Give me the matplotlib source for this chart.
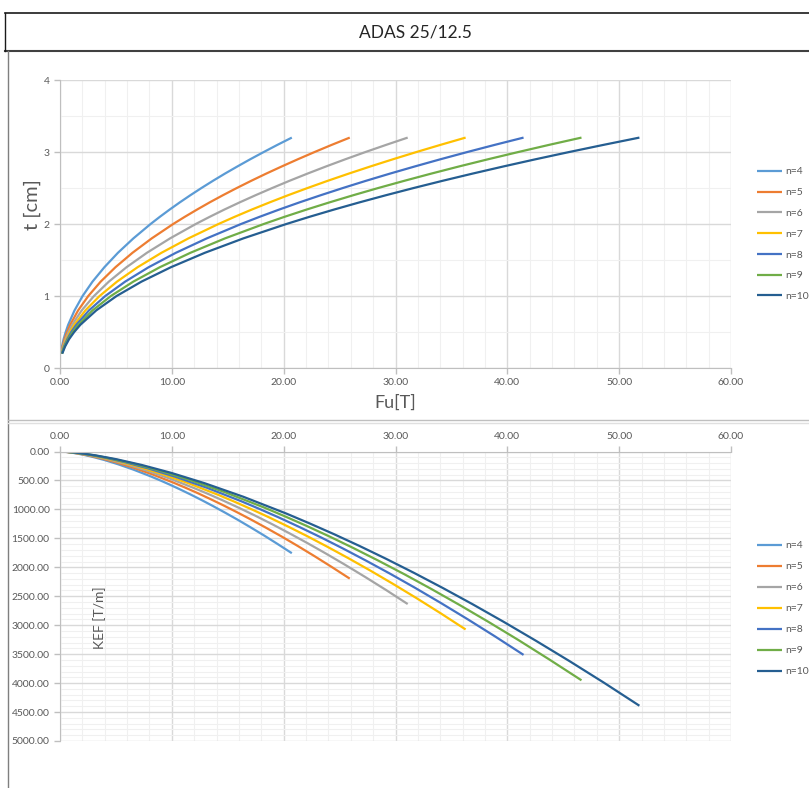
import matplotlib
matplotlib.use("Agg")
import matplotlib.pyplot as plt
from matplotlib.lines import Line2D
from matplotlib.ticker import MultipleLocator, FormatStrFormatter

plt.rcParams['font.family'] = ['Lato', 'DejaVu Sans']

# ---------------- data ----------------
SERIES = ["n=4", "n=5", "n=6", "n=7", "n=8", "n=9", "n=10"]
COLORS = ["#5B9BD5", "#ED7D31", "#A5A5A5", "#FFC000", "#4472C4", "#70AD47", "#255E91"]

T_CM = [0.2, 0.3, 0.4, 0.5, 0.6, 0.8, 1.0, 1.2, 1.4, 1.6, 1.8, 2.0,
        2.1, 2.2, 2.3, 2.4, 2.5, 2.6, 2.7, 2.8, 2.9, 3.0, 3.1, 3.2]

FU_N4 = [0.08, 0.18, 0.32, 0.51, 0.73, 1.30, 2.02, 2.91, 3.97, 5.18, 6.56, 8.10,
         8.93, 9.80, 10.71, 11.66, 12.65, 13.68, 14.75, 15.87, 17.02, 18.22, 19.45, 20.73]
FU_N5 = [0.10, 0.23, 0.40, 0.63, 0.91, 1.62, 2.53, 3.64, 4.96, 6.48, 8.20, 10.12,
         11.16, 12.25, 13.38, 14.57, 15.81, 17.10, 18.44, 19.84, 21.28, 22.77, 24.31, 25.91]
FU_N6 = [0.12, 0.27, 0.49, 0.76, 1.09, 1.94, 3.04, 4.37, 5.95, 7.77, 9.84, 12.14,
         13.39, 14.69, 16.06, 17.49, 18.98, 20.52, 22.13, 23.80, 25.53, 27.32, 29.18, 31.09]
FU_N7 = [0.14, 0.32, 0.57, 0.89, 1.28, 2.27, 3.54, 5.10, 6.94, 9.07, 11.48, 14.17,
         15.62, 17.14, 18.74, 20.40, 22.14, 23.94, 25.82, 27.77, 29.79, 31.88, 34.04, 36.27]
FU_N8 = [0.16, 0.36, 0.65, 1.01, 1.46, 2.59, 4.05, 5.83, 7.93, 10.36, 13.12, 16.19,
         17.85, 19.59, 21.41, 23.32, 25.30, 27.36, 29.51, 31.74, 34.04, 36.43, 38.90, 41.45]
FU_N9 = [0.18, 0.41, 0.73, 1.14, 1.64, 2.91, 4.55, 6.56, 8.93, 11.66, 14.75, 18.22,
         20.08, 22.04, 24.09, 26.23, 28.46, 30.79, 33.20, 35.70, 38.30, 40.99, 43.76, 46.63]
FU_N10 = [0.20, 0.46, 0.81, 1.27, 1.82, 3.24, 5.06, 7.29, 9.92, 12.95, 16.39, 20.24,
          22.31, 24.49, 26.77, 29.15, 31.63, 34.21, 36.89, 39.67, 42.55, 45.54, 48.63, 51.81]

KEF_N4 = [0.4, 1.4, 3.4, 6.7, 11.6, 27.4, 53.6, 92.6, 147.1, 219.5, 312.6, 428.8,
          496.4, 570.7, 652.2, 741.0, 837.5, 942.1, 1055.0, 1176.6, 1307.3, 1447.2, 1596.8, 1756.4]
KEF_N5 = [0.5, 1.8, 4.3, 8.4, 14.5, 34.3, 67.0, 115.8, 183.9, 274.4, 390.7, 536.0,
          620.5, 713.4, 815.2, 926.2, 1046.9, 1177.6, 1318.8, 1470.8, 1634.1, 1809.0, 1996.0, 2195.5]
KEF_N6 = [0.6, 2.2, 5.1, 10.1, 17.4, 41.2, 80.4, 138.9, 220.6, 329.3, 468.9, 643.2,
          744.6, 856.1, 978.2, 1111.4, 1256.3, 1413.1, 1582.5, 1765.0, 1960.9, 2170.8, 2395.2, 2634.5]
KEF_N7 = [0.8, 2.5, 6.0, 11.7, 20.3, 48.0, 93.8, 162.1, 257.4, 384.2, 547.0, 750.4,
          868.7, 998.8, 1141.3, 1296.7, 1465.6, 1648.6, 1846.3, 2059.1, 2287.7, 2532.6, 2794.4, 3073.6]
KEF_N8 = [0.9, 2.9, 6.9, 13.4, 23.2, 54.9, 107.2, 185.2, 294.2, 439.1, 625.2, 857.6,
          992.8, 1141.4, 1304.3, 1481.9, 1675.0, 1884.2, 2110.0, 2353.3, 2614.5, 2894.4, 3193.6, 3512.7]
KEF_N9 = [1.0, 3.3, 7.7, 15.1, 26.0, 61.7, 120.6, 208.4, 330.9, 494.0, 703.3, 964.8,
          1116.9, 1284.1, 1467.3, 1667.2, 1884.4, 2119.7, 2373.8, 2647.4, 2941.3, 3256.2, 3592.8, 3951.8]
KEF_N10 = [1.1, 3.6, 8.6, 16.8, 28.9, 68.6, 134.0, 231.6, 367.7, 548.9, 781.5, 1072.0,
           1241.0, 1426.8, 1630.4, 1852.4, 2093.8, 2355.2, 2637.5, 2941.6, 3268.1, 3618.0, 3992.0, 4390.9]

FU_ALL = [FU_N4, FU_N5, FU_N6, FU_N7, FU_N8, FU_N9, FU_N10]
KEF_ALL = [KEF_N4, KEF_N5, KEF_N6, KEF_N7, KEF_N8, KEF_N9, KEF_N10]

TXT = "#595959"
MAJ = "#d9d9d9"
MIN = "#f0f0f0"
W, H = 809, 788


def fx(px):
    return px / W


def fy(py):
    return 1 - py / H


def style_axes(ax):
    for s in ax.spines.values():
        s.set_visible(False)
    ax.grid(which="major", color=MAJ, linewidth=1.0)
    ax.grid(which="minor", color=MIN, linewidth=0.8)
    ax.set_axisbelow(True)
    ax.tick_params(which="major", colors="#bfbfbf", labelcolor=TXT, labelsize=7.5,
                   length=4, width=1.0, direction="out")
    ax.tick_params(which="minor", length=0)
    ax.xaxis.set_major_locator(MultipleLocator(10))
    ax.xaxis.set_minor_locator(MultipleLocator(2))
    ax.xaxis.set_major_formatter(FormatStrFormatter("%.2f"))
    ax.set_xlim(0, 60)


fig = plt.figure(figsize=(W / 100, H / 100), dpi=100)

# ---------------- frames / title box ----------------
fig.add_artist(Line2D([fx(5), 1], [fy(13), fy(13)], color="#1a1a1a", lw=1.2))
fig.add_artist(Line2D([fx(5), 1], [fy(51), fy(51)], color="#404040", lw=1.5))
fig.add_artist(Line2D([fx(5), fx(5)], [fy(13), fy(51)], color="#1a1a1a", lw=1.0))
fig.add_artist(Line2D([fx(8), fx(8)], [fy(51), 0], color="#7f7f7f", lw=1.0))
fig.add_artist(Line2D([fx(8), 1], [fy(420), fy(420)], color="#bfbfbf", lw=1.0))
fig.add_artist(Line2D([fx(8), 1], [fy(423), fy(423)], color="#e0e0e0", lw=1.0))
fig.text(fx(415), fy(33), "ADAS 25/12.5", ha="center", va="center",
         fontsize=12.5, color="#262626")

# ---------------- top chart: t vs Fu ----------------
ax1 = fig.add_axes([fx(60), fy(368), fx(731) - fx(60), fy(80) - fy(368)])
style_axes(ax1)
ax1.set_ylim(0, 4)
ax1.yaxis.set_major_locator(MultipleLocator(1))
ax1.yaxis.set_minor_locator(MultipleLocator(0.5))
ax1.spines["left"].set_visible(True)
ax1.spines["bottom"].set_visible(True)
ax1.spines["left"].set_color("#bfbfbf")
ax1.spines["bottom"].set_color("#bfbfbf")
for fu, lab, col in zip(FU_ALL, SERIES, COLORS):
    ax1.plot(fu, T_CM, color=col, lw=1.6, label=lab, solid_capstyle="butt")
ax1.set_ylabel("t [cm]", fontsize=14.5, color=TXT)
ax1.yaxis.label.set_va("center")
ax1.yaxis.set_label_coords(-(60 - 32) / (731 - 60), 1 - (205 - 80) / (368 - 80))
ax1.set_xlabel("Fu[T]", fontsize=13, color=TXT)
ax1.xaxis.label.set_va("center")
ax1.xaxis.set_label_coords((395 - 60) / (731 - 60), -(403 - 368) / (368 - 80))
ax1.legend(loc="upper left", bbox_to_anchor=(fx(752), fy(162)),
           bbox_transform=fig.transFigure, frameon=False, fontsize=7.5,
           labelcolor=TXT, handlelength=2.4, handletextpad=0.3,
           labelspacing=1.1, borderpad=0)

# ---------------- bottom chart: KEF vs Fu ----------------
ax2 = fig.add_axes([fx(60), fy(741), fx(731) - fx(60), fy(451.5) - fy(741)])
style_axes(ax2)
ax2.set_ylim(5000, 0)
ax2.yaxis.set_major_locator(MultipleLocator(500))
ax2.yaxis.set_minor_locator(MultipleLocator(100))
ax2.yaxis.set_major_formatter(FormatStrFormatter("%.2f"))
ax2.xaxis.tick_top()
ax2.spines["left"].set_visible(True)
ax2.spines["top"].set_visible(True)
ax2.spines["left"].set_color("#bfbfbf")
ax2.spines["top"].set_color("#bfbfbf")
for fu, kef, lab, col in zip(FU_ALL, KEF_ALL, SERIES, COLORS):
    ax2.plot(fu, kef, color=col, lw=1.6, label=lab, solid_capstyle="butt")
ax2.text((100 - 60) / (731 - 60), 1 - (618 - 451.5) / (741 - 451.5), "KEF [T/m]",
         transform=ax2.transAxes, rotation=90, ha="center", va="center",
         fontsize=10, color=TXT)
ax2.legend(loc="upper left", bbox_to_anchor=(fx(752), fy(536)),
           bbox_transform=fig.transFigure, frameon=False, fontsize=7.5,
           labelcolor=TXT, handlelength=2.4, handletextpad=0.3,
           labelspacing=1.12, borderpad=0)

fig.savefig("out.png", dpi=100)
